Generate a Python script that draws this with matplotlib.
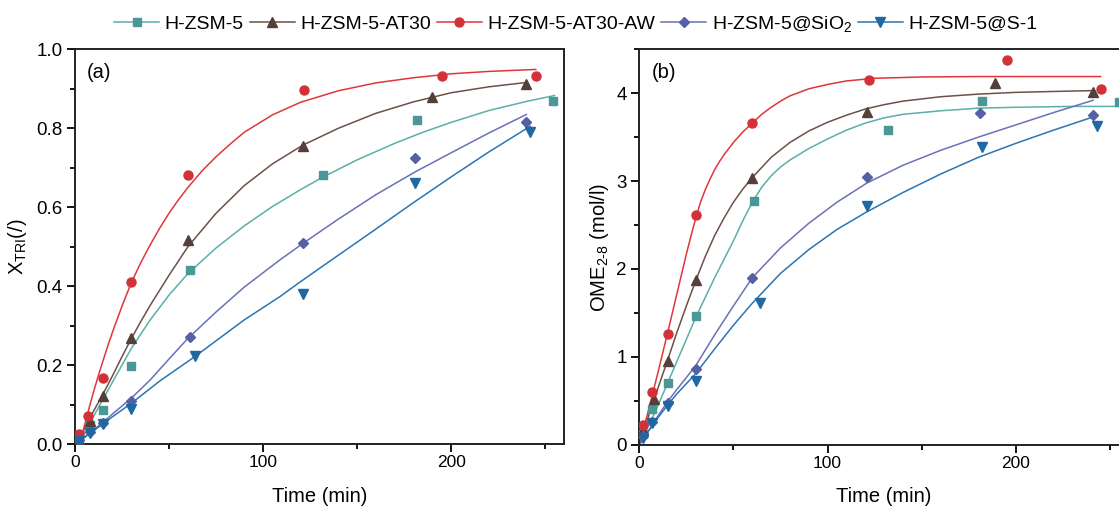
import matplotlib
matplotlib.use("Agg")
import matplotlib.pyplot as plt
from matplotlib.lines import Line2D
from matplotlib.ticker import MultipleLocator, FormatStrFormatter

plt.rcParams['font.family'] = ['Liberation Sans', 'DejaVu Sans']
plt.rcParams['mathtext.fontset'] = 'custom'
plt.rcParams['mathtext.rm'] = 'Liberation Sans'
plt.rcParams['mathtext.it'] = 'Liberation Sans'
plt.rcParams['mathtext.default'] = 'regular'

# ---------------- data ----------------
series_names = ["H-ZSM-5", "H-ZSM-5-AT30", "H-ZSM-5-AT30-AW",
                "H-ZSM-5@SiO$_2$", "H-ZSM-5@S-1"]

# Panel (a): conversion X_TRI, measured points
a_t_H = [2, 8, 15, 30, 61, 132, 182, 254]
a_y_H = [0.01, 0.05, 0.088, 0.199, 0.441, 0.682, 0.82, 0.868]
a_t_AT = [2, 8, 15, 30, 60, 121, 190, 240]
a_y_AT = [0.012, 0.06, 0.123, 0.268, 0.517, 0.755, 0.88, 0.912]
a_t_AW = [2, 7, 15, 30, 60, 122, 195, 245]
a_y_AW = [0.025, 0.072, 0.168, 0.41, 0.683, 0.898, 0.933, 0.932]
a_t_Si = [2, 8, 15, 30, 61, 121, 181, 240]
a_y_Si = [0.01, 0.03, 0.055, 0.11, 0.271, 0.51, 0.724, 0.817]
a_t_S1 = [2, 8, 15, 30, 64, 121, 181, 242]
a_y_S1 = [0.008, 0.028, 0.052, 0.09, 0.223, 0.38, 0.662, 0.79]

# Panel (a): fitted curves
af_t_H = [2, 5, 10, 15, 20, 30, 40, 50, 60, 75, 90, 105, 120, 132, 150, 170, 185, 200, 220, 240, 255]
af_y_H = [0, 0.03, 0.072, 0.115, 0.158, 0.243, 0.315, 0.378, 0.432, 0.497, 0.553, 0.602, 0.645, 0.677,
          0.72, 0.762, 0.79, 0.815, 0.845, 0.868, 0.883]
af_t_AT = [1, 5, 10, 15, 20, 25, 30, 35, 40, 50, 60, 75, 90, 105, 121, 140, 160, 180, 200, 220, 240]
af_y_AT = [0, 0.04, 0.085, 0.128, 0.174, 0.222, 0.268, 0.311, 0.352, 0.428, 0.50, 0.585, 0.655, 0.71,
           0.757, 0.80, 0.838, 0.867, 0.89, 0.905, 0.916]
af_t_AW = [2.5, 5, 7.5, 10, 12.5, 15, 17.5, 20, 25, 30, 35, 40, 45, 50, 55, 60, 67.5, 75, 82.5, 90,
           105, 120, 140, 160, 180, 200, 220, 245]
af_y_AW = [0, 0.047, 0.092, 0.135, 0.175, 0.213, 0.25, 0.285, 0.35, 0.41, 0.46, 0.505, 0.547, 0.585,
           0.619, 0.65, 0.692, 0.728, 0.76, 0.79, 0.834, 0.866, 0.895, 0.915, 0.928, 0.938, 0.944, 0.949]
af_t_Si = [0, 5, 10, 15, 20, 30, 40, 50, 60, 75, 90, 109, 121, 140, 160, 181, 200, 220, 240]
af_y_Si = [0, 0.018, 0.037, 0.056, 0.077, 0.117, 0.163, 0.216, 0.268, 0.335, 0.398, 0.467, 0.508,
           0.57, 0.632, 0.69, 0.738, 0.788, 0.835]
af_t_S1 = [0, 5, 10, 15, 20, 30, 45, 64, 75, 90, 109, 120, 135, 160, 180, 200, 220, 242]
af_y_S1 = [0, 0.017, 0.035, 0.052, 0.07, 0.104, 0.16, 0.223, 0.262, 0.315, 0.374, 0.412, 0.462,
           0.545, 0.612, 0.677, 0.74, 0.805]

# Panel (b): OME2-8 concentration, measured points
b_t_H = [2, 7, 15, 30, 61, 132, 182, 255]
b_y_H = [0.12, 0.41, 0.70, 1.46, 2.77, 3.58, 3.91, 3.90]
b_t_AT = [2, 8, 15, 30, 60, 121, 189, 241]
b_y_AT = [0.17, 0.52, 0.95, 1.87, 3.04, 3.79, 4.12, 4.01]
b_t_AW = [2, 7, 15, 30, 60, 122, 195, 245]
b_y_AW = [0.22, 0.60, 1.26, 2.61, 3.66, 4.15, 4.38, 4.05]
b_t_Si = [2, 7, 15, 30, 60, 121, 181, 241]
b_y_Si = [0.10, 0.26, 0.47, 0.86, 1.90, 3.05, 3.77, 3.75]
b_t_S1 = [2, 7, 15, 30, 64, 121, 182, 243]
b_y_S1 = [0.08, 0.25, 0.44, 0.73, 1.61, 2.72, 3.39, 3.63]

# Panel (b): fitted curves
bf_t_H = [0, 5, 10, 15, 20, 30, 40, 50, 55, 60, 65, 70, 75, 80, 90, 100, 110, 120, 130, 140,
          160, 180, 200, 230, 260]
bf_y_H = [0, 0.22, 0.45, 0.70, 0.95, 1.45, 1.9, 2.32, 2.55, 2.76, 2.93, 3.06, 3.16, 3.24, 3.37,
          3.48, 3.58, 3.66, 3.72, 3.76, 3.80, 3.83, 3.84, 3.85, 3.85]
bf_t_AT = [0, 5, 10, 15, 20, 25, 30, 35, 40, 45, 50, 55, 60, 70, 80, 90, 100, 110, 120, 130, 140,
           160, 180, 200, 220, 241]
bf_y_AT = [0, 0.33, 0.65, 0.96, 1.28, 1.58, 1.87, 2.14, 2.38, 2.58, 2.76, 2.91, 3.04, 3.27, 3.44,
           3.57, 3.67, 3.75, 3.82, 3.87, 3.91, 3.96, 3.99, 4.01, 4.02, 4.03]
bf_t_AW = [0, 5, 10, 15, 20, 25, 27.5, 30, 32.5, 35, 37.5, 40, 42.5, 45, 50, 55, 60, 65, 70, 75,
           80, 90, 100, 110, 125, 150, 180, 245]
bf_y_AW = [0, 0.40, 0.83, 1.27, 1.72, 2.17, 2.38, 2.58, 2.76, 2.9, 3.02, 3.13, 3.22, 3.3, 3.44,
           3.56, 3.66, 3.76, 3.84, 3.91, 3.97, 4.05, 4.10, 4.14, 4.17, 4.185, 4.19, 4.19]
bf_t_Si = [0, 5, 10, 15, 20, 30, 40, 50, 60, 75, 90, 105, 121, 140, 160, 180, 200, 220, 241]
bf_y_Si = [0, 0.16, 0.33, 0.49, 0.63, 0.9, 1.25, 1.58, 1.9, 2.24, 2.52, 2.76, 2.98, 3.18, 3.35,
           3.5, 3.64, 3.78, 3.92]
bf_t_S1 = [0, 5, 10, 15, 20, 30, 40, 50, 60, 75, 90, 105, 120, 140, 160, 180, 200, 220, 241]
bf_y_S1 = [0, 0.16, 0.31, 0.45, 0.58, 0.81, 1.09, 1.36, 1.61, 1.95, 2.22, 2.45, 2.64, 2.87, 3.08,
           3.27, 3.43, 3.58, 3.73]

# ---------------- styles ----------------
line_colors = ['#5aafa9', '#6e5049', '#e0363b', '#6b70b8', '#2a75b3']
mark_colors = ['#4a9795', '#54403b', '#d23237', '#5560a5', '#1e68a3']
markers = ['s', '^', 'o', 'D', 'v']
msizes = [5.5, 7.5, 6.5, 5.5, 7.5]

fig = plt.figure(figsize=(11.19, 5.07), dpi=100)
ax1 = fig.add_axes([75 / 1119, 62.7 / 507, 489 / 1119, 395 / 507])
ax2 = fig.add_axes([639.3 / 1119, 62.3 / 507, 489.6 / 1119, 395.4 / 507])

panel_a = [(a_t_H, a_y_H, af_t_H, af_y_H), (a_t_AT, a_y_AT, af_t_AT, af_y_AT),
           (a_t_AW, a_y_AW, af_t_AW, af_y_AW), (a_t_Si, a_y_Si, af_t_Si, af_y_Si),
           (a_t_S1, a_y_S1, af_t_S1, af_y_S1)]
panel_b = [(b_t_H, b_y_H, bf_t_H, bf_y_H), (b_t_AT, b_y_AT, bf_t_AT, bf_y_AT),
           (b_t_AW, b_y_AW, bf_t_AW, bf_y_AW), (b_t_Si, b_y_Si, bf_t_Si, bf_y_Si),
           (b_t_S1, b_y_S1, bf_t_S1, bf_y_S1)]

for ax, panel in ((ax1, panel_a), (ax2, panel_b)):
    for i, (tp, yp, tf, yf) in enumerate(panel):
        ax.plot(tf, yf, '-', color=line_colors[i], lw=1.1, zorder=2, clip_on=True)
    for i, (tp, yp, tf, yf) in enumerate(panel):
        ax.plot(tp, yp, linestyle='none', marker=markers[i], ms=msizes[i],
                color=mark_colors[i], mec=mark_colors[i], zorder=3, clip_on=True)

for ax in (ax1, ax2):
    ax.set_xlim(0, 260)
    ax.xaxis.set_major_locator(MultipleLocator(100))
    ax.xaxis.set_minor_locator(MultipleLocator(50))
    ax.tick_params(which='both', direction='out', top=False, right=False,
                   width=1.3)
    ax.tick_params(axis='x', labelsize=12.5, pad=2.5)
    ax.tick_params(axis='y', labelsize=13.5, pad=3.5)
    ax.tick_params(which='major', length=5.5)
    ax.tick_params(which='minor', length=3.5)
    for s in ax.spines.values():
        s.set_linewidth(1.4)
        s.set_color('#222222')
    ax.set_xlabel('Time (min)', fontsize=14.5, labelpad=12)

ax1.set_ylim(0, 1.0)
ax1.yaxis.set_major_locator(MultipleLocator(0.2))
ax1.yaxis.set_minor_locator(MultipleLocator(0.1))
ax1.yaxis.set_major_formatter(FormatStrFormatter('%.1f'))
ax1.set_ylabel('X$_{TRI}$(/)', fontsize=14.5, labelpad=5)

ax2.set_ylim(0, 4.5)
ax2.yaxis.set_major_locator(MultipleLocator(1))
ax2.yaxis.set_minor_locator(MultipleLocator(0.5))
ax2.set_ylabel(r'OME$_{2\text{-}8}$ (mol/l)', fontsize=14.5, labelpad=4)

ax1.text(0.025, 0.942, '(a)', transform=ax1.transAxes, fontsize=14.5, va='center', ha='left')
ax2.text(0.025, 0.942, '(b)', transform=ax2.transAxes, fontsize=14.5, va='center', ha='left')

handles = [Line2D([0], [0], color=line_colors[i], lw=1.1, marker=markers[i], ms=msizes[i],
                  mfc=mark_colors[i], mec=mark_colors[i]) for i in range(5)]
fig.legend(handles, series_names, loc='center', bbox_to_anchor=(576 / 1119, 1 - 24 / 507),
           ncol=5, frameon=False, fontsize=14, handlelength=2.3, handletextpad=0.3,
           columnspacing=0.3, borderpad=0)

fig.savefig('out.png', dpi=100)
